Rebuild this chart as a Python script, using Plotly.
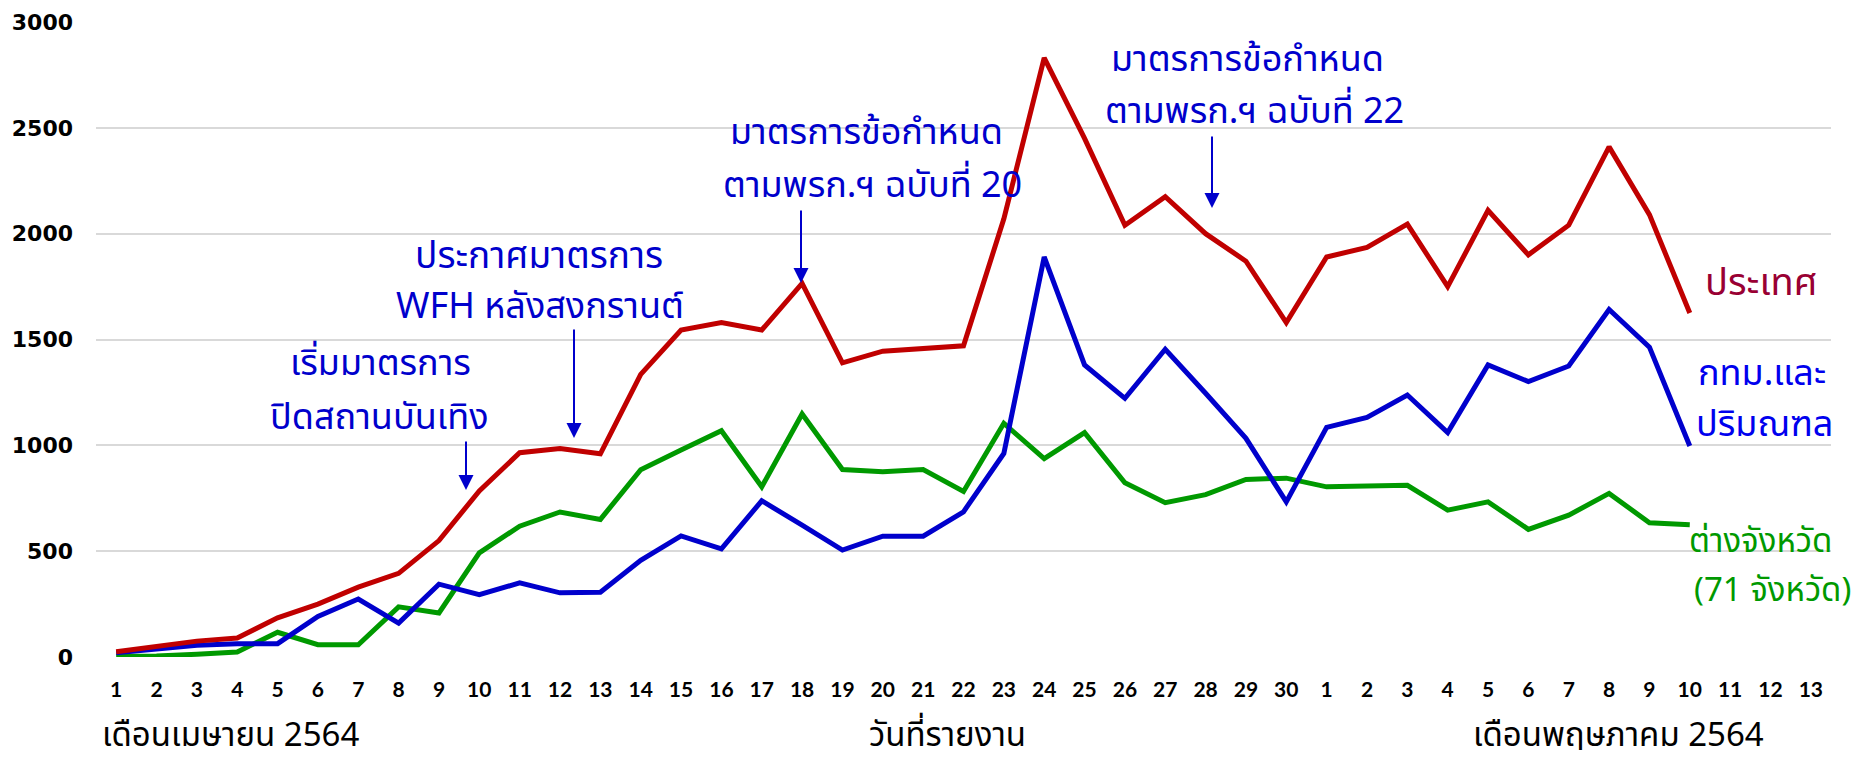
import plotly.graph_objects as go

# ---------------- data ----------------
april_days = ["1", "2", "3", "4", "5", "6", "7", "8", "9", "10", "11", "12", "13", "14", "15",
              "16", "17", "18", "19", "20", "21", "22", "23", "24", "25", "26", "27", "28", "29", "30"]
may_days = ["1", "2", "3", "4", "5", "6", "7", "8", "9", "10", "11", "12", "13"]
tick_labels = april_days + may_days

country = [25, 50, 75, 90, 185, 250, 330, 395, 550, 785, 965, 985, 960, 1335, 1545,
           1580, 1545, 1765, 1390, 1445, 1460, 1470, 2070, 2830, 2450, 2040, 2175, 2000, 1870, 1580,
           1890, 1935, 2045, 1750, 2110, 1900, 2040, 2410, 2090, 1625]
bkk = [20, 40, 55, 63, 63, 192, 274, 160, 344, 295, 350, 303, 306, 457, 572,
       511, 738, 623, 505, 571, 571, 686, 962, 1890, 1380, 1222, 1454, 1246, 1033, 733,
       1085, 1132, 1238, 1060, 1380, 1301, 1375, 1642, 1464, 997]
provinces = [3, 5, 13, 24, 117, 58, 58, 237, 208, 492, 618, 685, 650, 885, 978,
             1069, 804, 1148, 886, 875, 886, 782, 1104, 937, 1060, 823, 729, 767, 839, 845,
             804, 806, 811, 694, 733, 603, 670, 773, 634, 625]

series_names = ["ประเทศ", "กทม.และปริมณฑล", "ต่างจังหวัด (71 จังหวัด)"]
y_ticks = [0, 500, 1000, 1500, 2000, 2500, 3000]

# ---------------- figure ----------------
W, H = 1848, 742
ML, MR, MT, MB = 88, 25, 14, 93
PW, PH = W - ML - MR, H - MT - MB
OFF = 8  # default body margin of the page


def px(fx):
    return (fx - OFF - ML) / PW


def py(fy):
    return 1 - (fy - OFF - MT) / PH


positions = list(range(len(tick_labels)))

fig = go.Figure()
colors = {"ประเทศ": "#C00000", "กทม.และปริมณฑล": "#0000CC", "ต่างจังหวัด (71 จังหวัด)": "#009900"}
for name, vals in [(series_names[2], provinces), (series_names[1], bkk), (series_names[0], country)]:
    fig.add_trace(go.Scatter(
        x=positions[:len(vals)], y=vals, mode="lines", name=name,
        line=dict(color=colors[name], width=5), showlegend=False))

THAI = "Tahoma, 'Noto Sans Thai', 'Noto Sans', sans-serif"
TC = "#0000CC"
anns = []


def txt(text, fx, fy, color, size=36, xanchor="center", family=THAI, pad=1):
    anns.append(dict(text=text, x=px(fx), y=py(fy), xref="paper", yref="paper",
                     xanchor=xanchor, yanchor="middle", showarrow=False, borderpad=pad,
                     font=dict(family=family, size=size, color=color)))


def arrow(fx, y0, y1):
    anns.append(dict(text="", x=px(fx), y=py(y1), xref="paper", yref="paper",
                     ax=0, ay=y0 - y1, showarrow=True, arrowhead=2, arrowsize=1.5,
                     arrowwidth=2, arrowcolor=TC))


# event annotations
txt("เริ่มมาตรการ", 380, 364, TC)
txt("ปิดสถานบันเทิง", 379, 418, TC)
arrow(466, 440, 490)

txt("ประกาศมาตรการ", 539, 257, TC, size=37)
txt("WFH หลังสงกรานต์", 540, 307, TC)
arrow(574, 328, 438)

txt("มาตรการข้อกำหนด", 866, 133, TC)
txt("ตามพรก.ฯ ฉบับที่ 20", 872, 186, TC)
arrow(801, 209, 283)

txt("มาตรการข้อกำหนด", 1247, 60, TC)
txt("ตามพรก.ฯ ฉบับที่ 22", 1254, 112, TC)
arrow(1212, 135, 208)

# series labels
txt("ประเทศ", 1761, 283, "#990033", size=38)
txt("กทม.และ", 1762, 374, "#0000EE")
txt("ปริมณฑล", 1764, 425, "#0000EE")
txt("ต่างจังหวัด", 1760, 542, "#009900", size=33)
txt("(71 จังหวัด)", 1772, 591, "#009900", size=33)

# bottom texts
txt("เดือนเมษายน 2564", 101, 736, "black", size=33, xanchor="left", pad=0)
txt("วันที่รายงาน", 947, 736, "black", size=33, pad=0)
txt("เดือนพฤษภาคม 2564", 1618, 736, "black", size=33, pad=0)

fig.update_layout(
    width=W, height=H,
    margin=dict(l=ML, r=MR, t=MT, b=MB),
    plot_bgcolor="white", paper_bgcolor="white",
    annotations=anns,
    xaxis=dict(range=[-0.5, len(tick_labels) - 0.5], tickmode="array",
               tickvals=positions, ticktext=tick_labels, showgrid=False,
               zeroline=False, showline=False, ticks="", ticklabelstandoff=18,
               automargin=False,
               tickfont=dict(family="Lato", size=21, color="black", weight="bold")),
    yaxis=dict(range=[0, 3000], tickmode="array", tickvals=y_ticks,
               showgrid=True, gridcolor="#D9D9D9", gridwidth=1.5,
               zeroline=False, showline=False, ticks="", ticklabelstandoff=22,
               automargin=False,
               tickfont=dict(family="DejaVu Sans", size=22, color="black", weight="bold")),
)

fig.write_html("out.html")
